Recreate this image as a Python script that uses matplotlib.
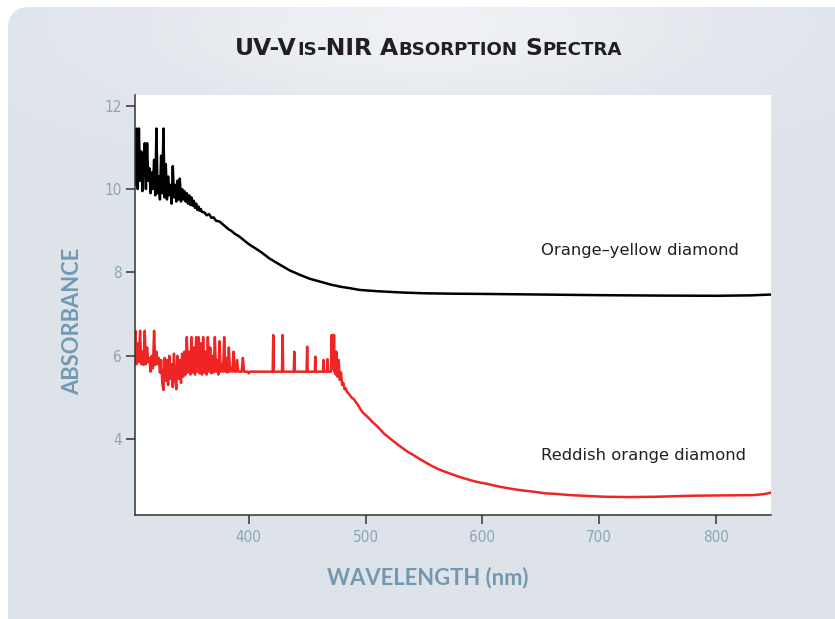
import matplotlib
matplotlib.use("Agg")
import matplotlib.pyplot as plt
import numpy as np
from matplotlib.patches import FancyBboxPatch

# ---- data ----
# orange-yellow diamond, noisy UV part
black_noise_wl = [302, 303, 304, 305, 306, 307, 308, 309, 310, 311, 312, 313, 314, 315,
                  316, 317, 318, 319, 320, 321, 322, 323, 324, 325, 326, 327, 328, 329,
                  330, 331, 332, 333, 334, 335, 336, 337, 338, 339, 340, 341, 342, 343,
                  344, 345, 346, 347, 348, 349, 350, 351, 352, 353, 354, 355, 356, 357,
                  358, 359, 360]
black_noise_abs = [10.9, 10.1, 11.45, 10.0, 11.45, 10.2, 10.9, 9.95, 10.6, 11.1, 10.0,
                   11.1, 10.2, 10.5, 9.9, 10.4, 10.0, 10.7, 9.85, 11.45, 9.9, 10.3, 9.75,
                   10.8, 9.9, 11.45, 9.8, 10.6, 9.75, 10.3, 9.85, 10.1, 9.65, 10.55, 9.8,
                   10.1, 9.7, 10.2, 9.75, 10.25, 9.7, 10.0, 9.75, 9.95, 9.7, 9.9, 9.65,
                   9.85, 9.62, 9.8, 9.6, 9.72, 9.55, 9.65, 9.5, 9.58, 9.48, 9.52, 9.45]
# orange-yellow diamond, smooth part
black_wl = [362, 364, 366, 368, 370, 372, 375, 378, 380, 383, 385, 388, 392, 400, 410,
            418, 427, 435, 444, 452, 461, 470, 478, 487, 495, 510, 530, 550, 575, 600,
            650, 700, 750, 800, 830, 847]
black_abs = [9.44, 9.37, 9.4, 9.31, 9.32, 9.24, 9.22, 9.15, 9.1, 9.03, 9.0, 8.93, 8.86,
             8.68, 8.5, 8.33, 8.18, 8.05, 7.94, 7.85, 7.78, 7.71, 7.66, 7.62, 7.58, 7.55,
             7.52, 7.5, 7.49, 7.485, 7.47, 7.455, 7.445, 7.44, 7.45, 7.47]

# reddish orange diamond, noisy UV part
red_noise_wl = list(range(302, 403))
red_noise_abs = [5.8, 6.6, 5.8, 6.3, 5.85, 6.6, 5.8, 6.1, 5.78, 6.6, 5.8, 6.2, 5.85, 5.95,
                 5.62, 6.0, 5.7, 6.6, 5.78, 6.1, 5.8, 5.95, 5.6, 5.9, 5.35, 5.18, 5.95,
                 5.4, 5.9, 5.3, 6.0, 5.45, 5.8, 5.25, 6.05, 5.5, 5.2, 6.0, 5.45, 5.9, 5.35,
                 6.05, 5.5, 6.1, 5.55, 6.45, 5.6, 6.1, 5.55, 6.45, 5.6, 6.2, 5.55, 6.45,
                 5.62, 6.45, 5.58, 6.3, 5.55, 6.45, 5.6, 6.1, 5.55, 6.45, 5.62, 6.2, 5.58,
                 6.0, 5.6, 6.45, 5.62, 5.9, 5.55, 6.35, 5.62, 5.8, 5.62, 6.45, 5.62, 5.95,
                 5.6, 6.2, 5.62, 5.7, 5.62, 6.1, 5.62, 5.62, 5.9, 5.62, 5.62, 5.62, 5.62,
                 5.95, 5.62, 5.62, 5.62, 5.62, 5.58, 5.62, 5.62]
# flat plateau with isolated spikes, then the absorption edge
red_wl = [420.5, 421, 421.5, 428.5, 429, 429.5, 438.5, 439, 439.5, 449.5, 450, 450.5,
          456.5, 457, 457.5, 463.5, 464, 464.5, 467, 467.5, 468, 470.5, 471, 471.5, 472,
          472.5, 473, 473.5, 474, 474.5, 475, 476, 477, 478, 479, 480, 481, 482, 483, 484,
          486, 488, 490, 492, 494, 496, 498, 500, 503, 506, 510, 513, 516, 520, 524, 528,
          532, 536, 541, 546, 551, 556, 561, 566, 571, 576, 581, 586, 592, 598, 604, 610,
          615, 621, 627, 632, 638, 644, 649, 655, 662, 668, 675, 682, 690, 697, 705, 712,
          718, 726, 735, 748, 760, 770, 780, 790, 800, 810, 820, 826, 832, 836, 840, 844,
          847]
red_abs = [5.62, 6.5, 5.62, 5.62, 6.5, 5.62, 5.62, 6.1, 5.62, 5.62, 6.22, 5.62,
           5.62, 5.98, 5.62, 5.62, 5.9, 5.62, 5.62, 5.92, 5.62, 5.62, 6.5, 5.7, 6.5,
           5.8, 6.5, 5.62, 6.0, 5.55, 6.1, 5.5, 5.9, 5.42, 5.6, 5.3, 5.35, 5.2, 5.22, 5.14,
           5.08, 5.0, 4.96, 4.88, 4.8, 4.7, 4.63, 4.58, 4.5, 4.41, 4.31, 4.22, 4.13, 4.04,
           3.95, 3.86, 3.78, 3.7, 3.62, 3.53, 3.45, 3.37, 3.3, 3.24, 3.19, 3.14, 3.09,
           3.05, 3.0, 2.96, 2.93, 2.89, 2.86, 2.83, 2.8, 2.78, 2.76, 2.74, 2.72, 2.7, 2.69,
           2.675, 2.66, 2.65, 2.64, 2.63, 2.62, 2.617, 2.615, 2.613, 2.615, 2.62, 2.63,
           2.637, 2.645, 2.648, 2.65, 2.652, 2.655, 2.657, 2.66, 2.67, 2.68, 2.7, 2.72]

x_ticks = [400, 500, 600, 700, 800]
y_ticks = [4, 6, 8, 10, 12]

W, H = 835, 619
LABEL_C = "#7399b2"
TICK_C = "#89a6ba"

fig = plt.figure(figsize=(W / 100, H / 100), dpi=100, facecolor="white")

# background panel with a soft light glow behind the title
bg = fig.add_axes([0, 0, 1, 1], zorder=-10)
bg.set_xlim(0, W)
bg.set_ylim(H, 0)
bg.axis("off")
yy, xx = np.mgrid[0:H, 0:W]
glow = np.exp(-((xx - 430) / 300.0) ** 2 - ((yy - 25) / 90.0) ** 2) * 0.5
base = np.array([0xde, 0xe3, 0xea]) / 255.0
img = base[None, None, :] + (1 - base[None, None, :]) * glow[:, :, None]
panel = FancyBboxPatch((8, 7), 900, 700, boxstyle="round,pad=0,rounding_size=22",
                       facecolor="none", edgecolor="none")
bg.add_patch(panel)
im = bg.imshow(img, extent=(0, W, H, 0), aspect="auto", interpolation="bilinear")
im.set_clip_path(panel)

# plot area
ax = fig.add_axes([134.7 / W, 1 - 514.7 / H, (770.5 - 134.7) / W, (514.7 - 94.8) / H])
ax.set_facecolor("white")
ax.plot(black_noise_wl + black_wl, black_noise_abs + black_abs, color="black", lw=1.8)
ax.plot(red_noise_wl + red_wl, red_noise_abs + red_abs, color="#ee2524", lw=1.8)

ax.set_xlim(302.4, 846.6)
ax.set_ylim(2.19, 12.26)
ax.set_xticks(x_ticks)
ax.set_yticks(y_ticks)
for s in ["top", "right"]:
    ax.spines[s].set_visible(False)
for s in ["left", "bottom"]:
    ax.spines[s].set_color("#333333")
    ax.spines[s].set_linewidth(1.1)
ax.tick_params(direction="out", length=6.3, width=1.1, color="#333333",
               labelcolor=TICK_C, labelsize=11)
ax.tick_params(axis="x", pad=5)
ax.tick_params(axis="y", pad=3)
for lab in ax.get_xticklabels() + ax.get_yticklabels():
    lab.set_family("DejaVu Sans")
    lab.set_stretch("condensed")

ax.text(650.3, 8.42, "Orange\u2013yellow diamond", fontsize=11.8, color="#231f20",
        va="baseline", ha="left")
ax.text(650.3, 3.50, "Reddish orange diamond", fontsize=11.8, color="#231f20",
        va="baseline", ha="left")

# axis titles
fig.text(73 / W, 1 - 321 / H, "ABSORBANCE", rotation=90, ha="center", va="center",
         fontsize=15.8, fontweight="bold", family="Lato", color=LABEL_C)
fig.text(428 / W, 1 - 584.3 / H, "WAVELENGTH (nm)", ha="center", va="baseline",
         fontsize=15.8, fontweight="bold", family="Lato", color=LABEL_C)

# small-caps title, built piece by piece
pieces = [("UV-V", True), ("IS", False), ("-NIR", True), (" ", None), ("A", True),
          ("BSORPTION", False), (" ", None), ("S", True), ("PECTRA", False)]
big, small = 15.5, 12.1
renderer = fig.canvas.get_renderer()


def build_title(big, small):
    objs, widths = [], []
    for s, is_big in pieces:
        if is_big is None:
            objs.append(None)
            widths.append(big * 100 / 72 * 0.32)
            continue
        t = fig.text(0, 1 - 55 / H, s, fontsize=big if is_big else small,
                     fontweight="bold", family="DejaVu Sans", color="#231f20",
                     va="baseline", ha="left")
        objs.append(t)
        widths.append(t.get_window_extent(renderer).width)
    return objs, widths


objs, widths = build_title(big, small)
scale = 387.0 / sum(widths)
for o in objs:
    if o is not None:
        o.remove()
objs, widths = build_title(big * scale, small * scale)
x = 428.5 - sum(widths) / 2
for o, w in zip(objs, widths):
    if o is not None:
        o.set_x(x / W)
    x += w

fig.savefig("out.png", dpi=100, facecolor="white")
